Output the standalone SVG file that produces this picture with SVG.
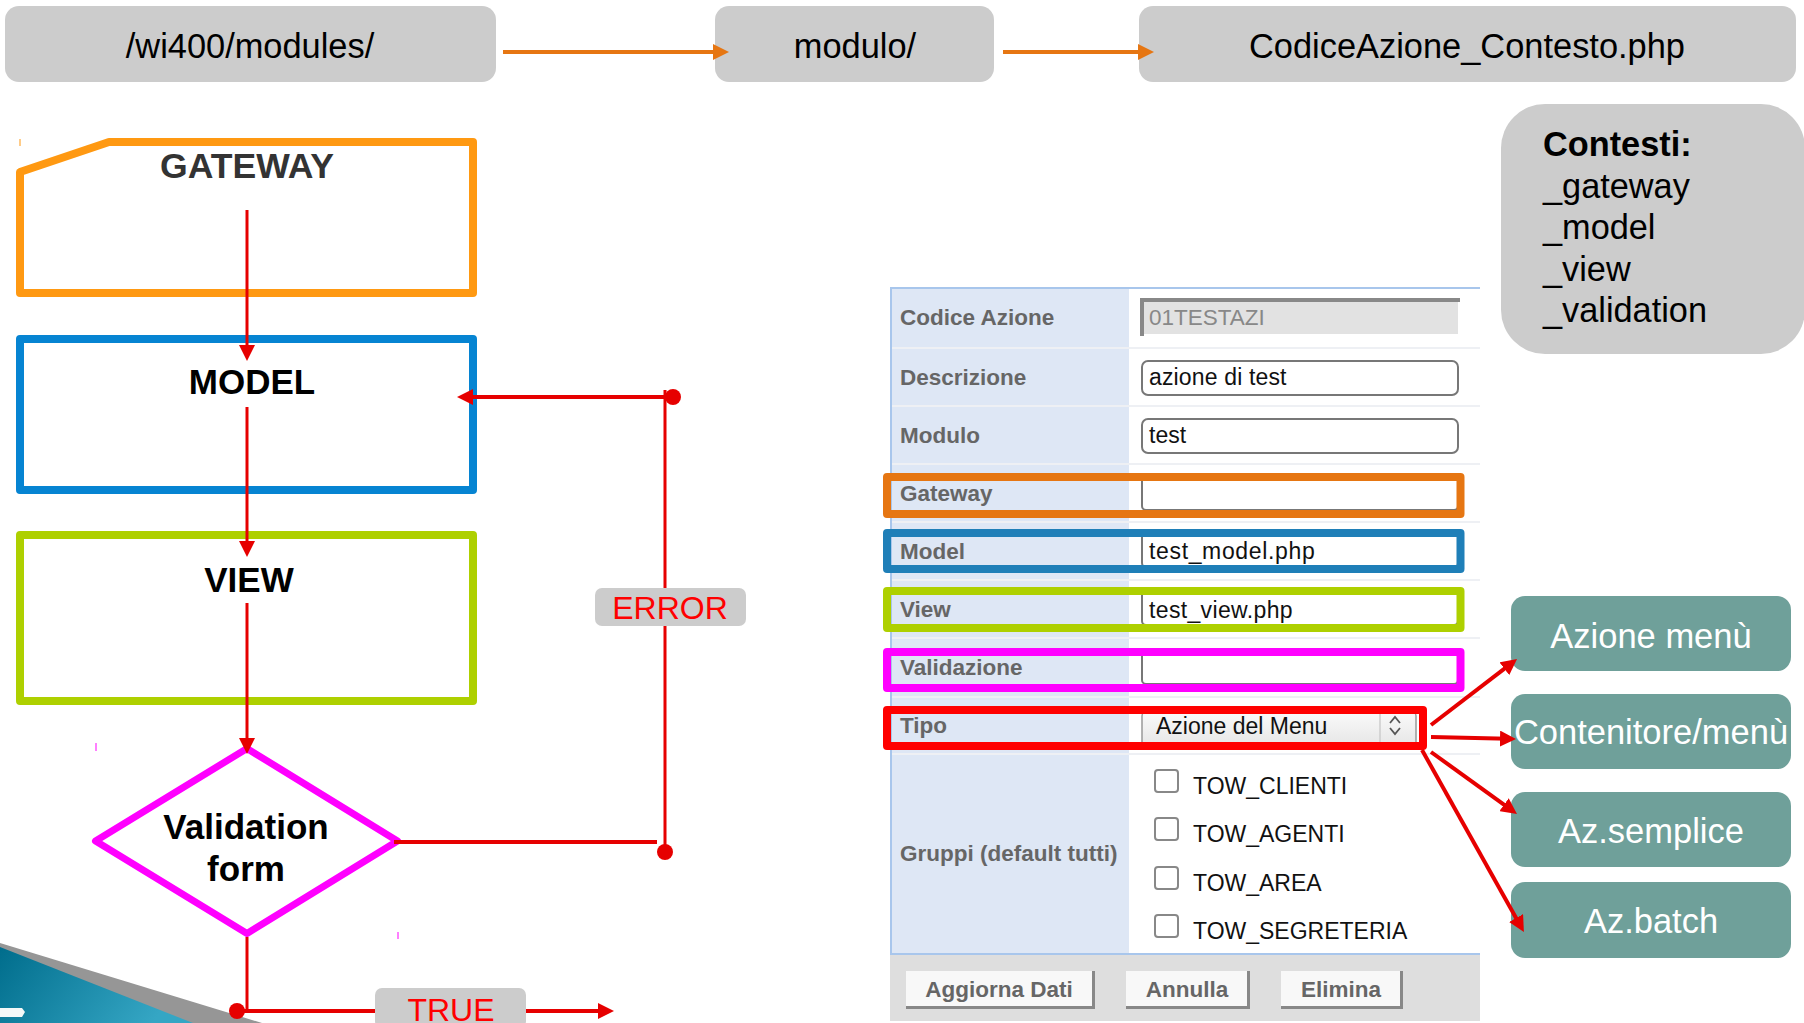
<svg xmlns="http://www.w3.org/2000/svg" width="1804" height="1023" viewBox="0 0 1804 1023">
<style>
text{font-family:"Liberation Sans",Arial,sans-serif}
.g{fill:#ccc}
.path{font-size:34.4px;fill:#000;text-anchor:middle}
.flow{font-size:35px;font-weight:bold;fill:#000;text-anchor:middle}
.shape{fill:#fff;stroke-width:8;stroke-linejoin:round}
.tag{font-size:32px;fill:#f00;text-anchor:middle}
.teal{fill:#6fa09a}
.tealt{font-size:34.5px;fill:#fff;text-anchor:middle}
.ctx{font-size:34.3px;fill:#000}
.lab{font-size:22.5px;font-weight:bold;fill:#666}
.val{font-size:23px;fill:#111}
.inp{fill:#fff;stroke:#777;stroke-width:2}
.sep{stroke:#eef0f4;stroke-width:2}
.hl{fill:none;stroke-width:8;stroke-linejoin:round}
.cb{fill:#fff;stroke:#888;stroke-width:2}
.btn{fill:#f8f8f8}
.btnb{fill:none;stroke:#888;stroke-width:3}
.btnt{font-size:22.5px;font-weight:bold;fill:#666;text-anchor:middle}
.red{fill:none;stroke:#e60000;stroke-width:3}
.red4{fill:none;stroke:#e60000;stroke-width:4}
.dot{fill:#e60000}
.org{fill:none;stroke:#e67612;stroke-width:4}
</style>
<defs>
<marker id="hr" markerUnits="userSpaceOnUse" viewBox="0 0 16 16" markerWidth="16" markerHeight="16" refX="8" refY="8" orient="auto"><path d="M0 0L16 8L0 16Z" fill="#e60000"/></marker>
<marker id="ho" markerUnits="userSpaceOnUse" viewBox="0 0 16 16" markerWidth="16" markerHeight="16" refX="8" refY="8" orient="auto"><path d="M0 0L16 8L0 16Z" fill="#e67612"/></marker>
<linearGradient id="sea" x1="0" y1="0" x2="1" y2="0.3"><stop offset="0" stop-color="#006d8c"/><stop offset="1" stop-color="#35a6c4"/></linearGradient>
<linearGradient id="sel" x1="0" y1="0" x2="0" y2="1"><stop offset="0" stop-color="#fafafa"/><stop offset="1" stop-color="#e6e6e6"/></linearGradient>
</defs>

<g id="backdrop">
<path d="M0 943L262 1023H0Z" fill="#969696"/>
<path d="M0 947L193 1023H0Z" fill="url(#sea)"/>
<path d="M0 1008H22L25 1012L22 1017H0Z" fill="#f4f8f8"/>
</g>

<g id="node-path-root"><rect class="g" x="5" y="6" width="491" height="76" rx="14"/><text class="path" x="250" y="58">/wi400/modules/</text></g>
<g id="node-path-module"><rect class="g" x="715" y="6" width="279" height="76" rx="14"/><text class="path" x="855" y="58">modulo/</text></g>
<g id="node-path-file"><rect class="g" x="1139" y="6" width="657" height="76" rx="14"/><text class="path" x="1467" y="58">CodiceAzione_Contesto.php</text></g>

<g id="node-gateway">
<path class="shape" stroke="#ff9912" d="M20 172L109 142H473V293H20Z"/>
<path d="M20 139V146" stroke="#ff9912" stroke-width="1"/>
<text x="247" y="178" font-size="35.6" font-weight="bold" fill="#333" text-anchor="middle">GATEWAY</text>
</g>
<g id="node-model">
<rect class="shape" stroke="#0684d2" x="20" y="339" width="453" height="151"/>
<text class="flow" x="252" y="394">MODEL</text>
</g>
<g id="node-view">
<rect class="shape" stroke="#aed000" x="20" y="535" width="453" height="166"/>
<text class="flow" x="249" y="592">VIEW</text>
</g>
<g id="node-validation">
<path fill="#fff" stroke="#f0f" stroke-width="7" stroke-linejoin="round" d="M247 748.500L397.500 841L247 933.500L95.500 841Z"/>
<path d="M96 743V751M398 932V939" stroke="#f0f" stroke-width="1"/>
<text class="flow" x="246" y="839">Validation</text>
<text class="flow" x="246" y="881">form</text>
</g>

<g id="node-contesti">
<rect class="g" x="1501" y="104" width="304" height="250" rx="44"/>
<text class="ctx" x="1543" y="156" font-weight="bold">Contesti:</text>
<text class="ctx" x="1543" y="197.500">_gateway</text>
<text class="ctx" x="1543" y="239">_model</text>
<text class="ctx" x="1543" y="280.500">_view</text>
<text class="ctx" x="1543" y="322">_validation</text>
</g>

<g id="form">
<rect x="890" y="287" width="590" height="667" fill="#fff"/>
<rect x="890" y="287" width="239" height="667" fill="#dee7f5"/>
<rect x="890" y="954" width="590" height="67" fill="#dedede"/>
<path d="M1480 288H891V954H1480" fill="none" stroke="#a8c6ec" stroke-width="2"/>
<path class="sep" d="M892 348H1480M892 406H1480M892 464H1480M892 522H1480M892 580H1480M892 638H1480M892 697H1480M892 754H1480"/>

<rect x="1142" y="300" width="316" height="34" fill="#e2e2e2"/>
<path d="M1460 300H1142V336" fill="none" stroke="#888" stroke-width="4"/>
<text class="lab" x="900" y="325">Codice Azione</text>
<text x="1149" y="325" font-size="22.500" fill="#888">01TESTAZI</text>

<rect class="inp" x="1142" y="361" width="316" height="34" rx="6"/>
<text class="lab" x="900" y="385">Descrizione</text>
<text class="val" x="1149" y="385" letter-spacing="0.15">azione di test</text>

<rect class="inp" x="1142" y="419" width="316" height="34" rx="6"/>
<text class="lab" x="900" y="443">Modulo</text>
<text class="val" x="1149" y="443">test</text>

<rect class="inp" x="1142" y="476" width="316" height="34" rx="4"/>
<text class="lab" x="900" y="501">Gateway</text>

<rect class="inp" x="1142" y="533" width="316" height="34" rx="4"/>
<text class="lab" x="900" y="559">Model</text>
<text class="val" x="1149" y="559" letter-spacing="0.65">test_model.php</text>

<rect class="inp" x="1142" y="591" width="316" height="34" rx="4"/>
<text class="lab" x="900" y="617">View</text>
<text class="val" x="1149" y="618" letter-spacing="0.35">test_view.php</text>

<rect class="inp" x="1142" y="650" width="316" height="34" rx="4"/>
<text class="lab" x="900" y="675">Validazione</text>

<rect x="1142" y="712" width="274" height="34" rx="4" fill="url(#sel)" stroke="#999" stroke-width="1.500"/>
<path d="M1380 714V744" stroke="#ccc" stroke-width="1.500"/>
<text class="lab" x="900" y="733">Tipo</text>
<text class="val" x="1156" y="734">Azione del Menu</text>
<path d="M1390 723L1395 717L1400 723M1390 728L1395 734L1400 728" fill="none" stroke="#555" stroke-width="1.800"/>

<text class="lab" x="900" y="861">Gruppi (default tutti)</text>
<rect class="cb" x="1155" y="770" width="23" height="22" rx="3"/>
<text class="val" x="1193" y="794">TOW_CLIENTI</text>
<rect class="cb" x="1155" y="818" width="23" height="22" rx="3"/>
<text class="val" x="1193" y="842">TOW_AGENTI</text>
<rect class="cb" x="1155" y="867" width="23" height="22" rx="3"/>
<text class="val" x="1193" y="891">TOW_AREA</text>
<rect class="cb" x="1155" y="915" width="23" height="22" rx="3"/>
<text class="val" x="1193" y="939">TOW_SEGRETERIA</text>

<rect class="btn" x="906" y="971" width="189" height="38"/>
<path class="btnb" d="M906 1007.500H1093.500V971"/>
<text class="btnt" x="999" y="997">Aggiorna Dati</text>
<rect class="btn" x="1126" y="971" width="124" height="38"/>
<path class="btnb" d="M1126 1007.500H1248.500V971"/>
<text class="btnt" x="1187" y="997">Annulla</text>
<rect class="btn" x="1281" y="971" width="122" height="38"/>
<path class="btnb" d="M1281 1007.500H1401.500V971"/>
<text class="btnt" x="1341" y="997">Elimina</text>

<rect class="hl" stroke="#e67612" x="887" y="477" width="573.500" height="37"/>
<rect class="hl" stroke="#1f7fb8" x="887" y="533" width="573.500" height="36"/>
<rect class="hl" stroke="#aed000" x="887" y="591" width="573.500" height="37"/>
<rect class="hl" stroke="#f0f" x="887" y="652" width="573.500" height="36"/>
<rect class="hl" stroke="#f00" x="887" y="710" width="536" height="36"/>
</g>

<g id="node-azione-menu"><rect class="teal" x="1511" y="596" width="280" height="75" rx="14"/><text class="tealt" x="1651" y="648">Azione menù</text></g>
<g id="node-contenitore-menu"><rect class="teal" x="1511" y="694" width="280" height="75" rx="14"/><text class="tealt" x="1651" y="744">Contenitore/menù</text></g>
<g id="node-az-semplice"><rect class="teal" x="1511" y="792" width="280" height="75" rx="14"/><text class="tealt" x="1651" y="843">Az.semplice</text></g>
<g id="node-az-batch"><rect class="teal" x="1511" y="882" width="280" height="76" rx="14"/><text class="tealt" x="1651" y="933">Az.batch</text></g>

<g id="connectors">
<path class="org" d="M503 52H721" marker-end="url(#ho)"/>
<path class="org" d="M1003 52H1146" marker-end="url(#ho)"/>
<path class="red" d="M247 210V353" marker-end="url(#hr)"/>
<path class="red" d="M247 407V549" marker-end="url(#hr)"/>
<path class="red" d="M247 603V746" marker-end="url(#hr)"/>
<path class="red4" d="M394 842H657"/>
<path class="red" d="M665 852V390"/>
<path class="red4" d="M673 397H465" marker-end="url(#hr)"/>
<circle class="dot" cx="665" cy="852" r="8"/>
<circle class="dot" cx="673" cy="397" r="8"/>
<path class="red" d="M247 937V1011"/>
<path class="red4" d="M237 1011H606" marker-end="url(#hr)"/>
<circle class="dot" cx="237" cy="1011" r="8"/>
<path class="red4" d="M1431 725L1510.700 663.900" marker-end="url(#hr)"/>
<path class="red4" d="M1431 737L1508 738.800" marker-end="url(#hr)"/>
<path class="red4" d="M1431 752L1510.500 809.300" marker-end="url(#hr)"/>
<path class="red4" d="M1422 750L1520 925" marker-end="url(#hr)"/>
</g>

<g id="label-error"><rect class="g" x="595" y="588" width="151" height="38" rx="7"/><text class="tag" x="670" y="619">ERROR</text></g>
<g id="label-true"><rect class="g" x="375" y="988" width="151" height="40" rx="7"/><text class="tag" x="451" y="1021">TRUE</text></g>
</svg>
